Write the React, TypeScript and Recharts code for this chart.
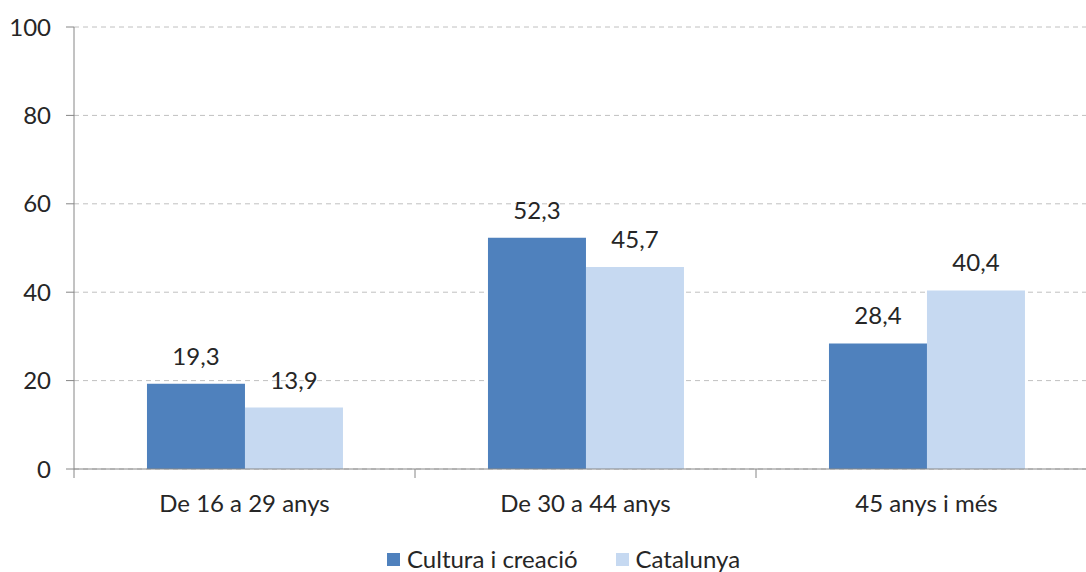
import { Bar, BarChart, CartesianGrid, LabelList, Legend, XAxis, YAxis } from 'recharts';

const categories = ['De 16 a 29 anys', 'De 30 a 44 anys', '45 anys i més'];
const culturaValues = [19.3, 52.3, 28.4];
const catalunyaValues = [13.9, 45.7, 40.4];
const yTicks = [0, 20, 40, 60, 80, 100];

const SERIES = [
  { key: 'cultura', name: 'Cultura i creació', color: '#4F81BD' },
  { key: 'catalunya', name: 'Catalunya', color: '#C6D9F1' },
];

const FONT = 'Lato, "Open Sans", sans-serif';
const TEXT = '#262626';
const AXIS = '#868686';

// chart is a bit wider than the window: the original was cropped on the right
const CHART_W = 1100;
const CHART_H = 572;
const MARGIN = { top: 27, right: 3, bottom: 0, left: 0 };
const Y_W = 74;
const LEGEND_H = 26;
const BAND = (CHART_W - MARGIN.left - MARGIN.right - Y_W) / categories.length;

const data = categories.map((name, i) => ({
  name,
  cultura: culturaValues[i],
  catalunya: catalunyaValues[i],
}));

const fmt = (v: number) => v.toFixed(1).replace('.', ',');

// Excel-style category axis: tick marks sit between the categories.
function CategoryTick(props: any) {
  const { x, y, payload, index } = props;
  const left = x - BAND / 2;
  return (
    <g>
      <line x1={left} x2={left} y1={y} y2={y + 9} stroke={AXIS} />
      {index === categories.length - 1 && (
        <line x1={x + BAND / 2} x2={x + BAND / 2} y1={y} y2={y + 9} stroke={AXIS} />
      )}
      <text x={x} y={y + 43} textAnchor="middle" fill={TEXT} fontSize={24} fontFamily={FONT}>
        {payload.value}
      </text>
    </g>
  );
}

function LegendContent() {
  return (
    <div
      style={{
        display: 'flex',
        alignItems: 'center',
        height: LEGEND_H,
        paddingLeft: 387,
        fontFamily: FONT,
        fontSize: 24,
        lineHeight: `${LEGEND_H}px`,
        color: TEXT,
        whiteSpace: 'nowrap',
      }}
    >
      {SERIES.map((s) => (
        <div key={s.key} style={{ display: 'flex', alignItems: 'center', marginRight: 38 }}>
          <span style={{ width: 13, height: 13, background: s.color, marginRight: 7, display: 'inline-block' }} />
          <span>{s.name}</span>
        </div>
      ))}
    </div>
  );
}

export default function App() {
  return (
    <div style={{ position: 'absolute', left: 0, top: 0, width: 1086, height: 572, overflow: 'hidden', background: '#fff' }}>
      <BarChart
        width={CHART_W}
        height={CHART_H}
        data={data}
        margin={MARGIN}
        barCategoryGap="21.4%"
        barGap={0}
      >
        <CartesianGrid vertical={false} stroke="#c0c0c0" strokeDasharray="5 4" />
        <XAxis
          dataKey="name"
          height={103 - LEGEND_H}
          axisLine={{ stroke: AXIS }}
          tickLine={false}
          tickSize={0}
          tickMargin={0}
          tick={<CategoryTick />}
          interval={0}
        />
        <YAxis
          width={Y_W}
          domain={[0, 100]}
          ticks={yTicks}
          axisLine={{ stroke: AXIS }}
          tickLine={{ stroke: AXIS }}
          tickSize={8}
          tickMargin={15}
          tick={{ fill: TEXT, fontSize: 24, fontFamily: FONT }}
        />
        <Legend verticalAlign="bottom" align="left" content={<LegendContent />} />
        {SERIES.map((s) => (
          <Bar key={s.key} dataKey={s.key} name={s.name} fill={s.color} isAnimationActive={false}>
            <LabelList
              dataKey={s.key}
              position="top"
              offset={19}
              formatter={(v: any) => fmt(Number(v))}
              fill={TEXT}
              fontSize={24}
              fontFamily={FONT}
            />
          </Bar>
        ))}
      </BarChart>
    </div>
  );
}
